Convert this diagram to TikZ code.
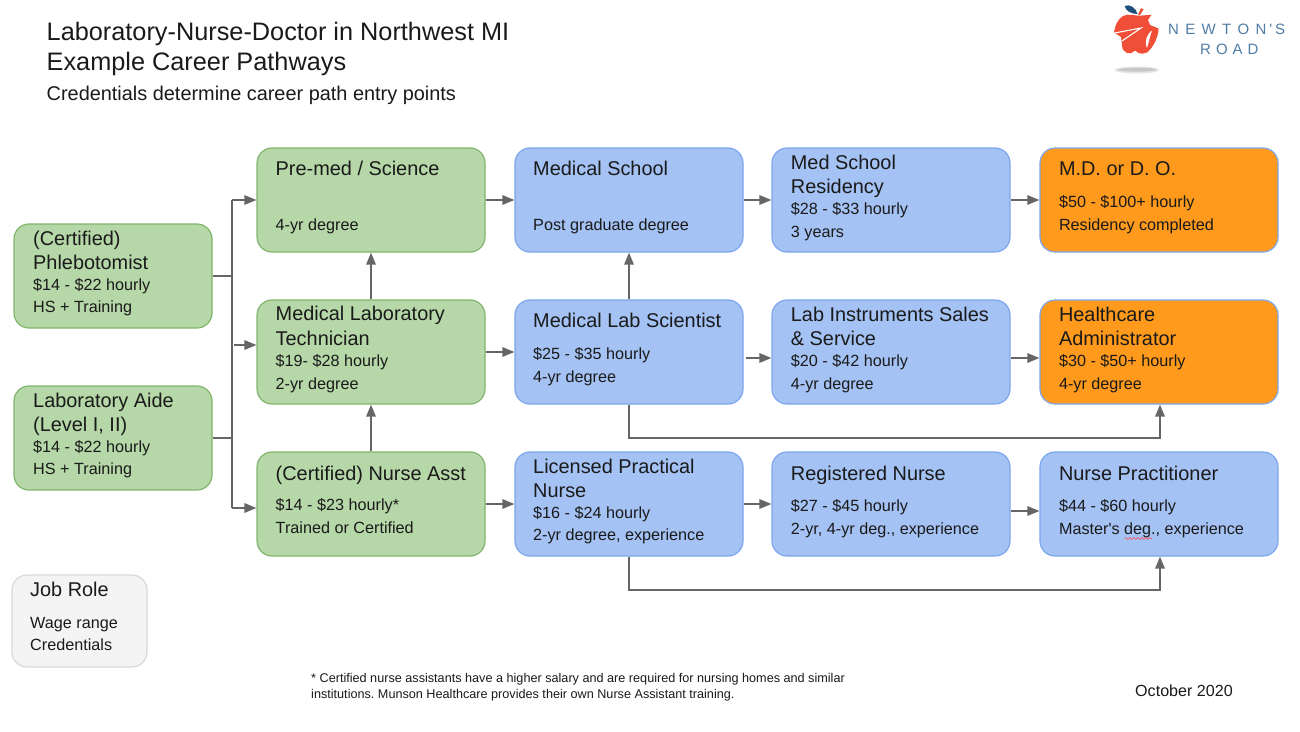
\documentclass[tikz,border=0pt]{standalone}
\usepackage{fontspec}
\setmainfont[Ligatures=TeXOff]{Liberation Sans}
\frenchspacing
\usetikzlibrary{arrows.meta,decorations.pathmorphing}
\definecolor{grn}{HTML}{B6D7A8}
\definecolor{grnb}{HTML}{7FB56C}
\definecolor{blu}{HTML}{A4C2F4}
\definecolor{blub}{HTML}{7BA6EC}
\definecolor{org}{HTML}{FF9A1C}
\definecolor{arr}{HTML}{666666}
\definecolor{ink}{HTML}{1A1A1A}
\definecolor{apple}{HTML}{F04E37}
\definecolor{leaf}{HTML}{1F4E79}
\definecolor{nrd}{HTML}{4F7CA6}
\tikzset{
  x=1pt,y=-1pt,
  jobbox/.style={rectangle,rounded corners=15pt,line width=1.2pt,minimum width=228pt,minimum height=104pt,inner sep=0pt},
  green box/.style={jobbox,fill=grn,draw=grnb},
  blue box/.style={jobbox,fill=blu,draw=blub},
  orange box/.style={jobbox,fill=org,draw=blub},
  hd/.style={anchor=base west,inner sep=0pt,text=ink,font=\fontsize{19.9pt}{24pt}\selectfont},
  bd/.style={anchor=base west,inner sep=0pt,text=ink,yshift=0.2pt,font=\fontsize{16.2pt}{20pt}\selectfont},
  conn/.style={draw=arr,line width=1.5pt,-{Triangle[length=12pt,width=9.5pt]}},
  plain/.style={draw=arr,line width=1.5pt},
}
\begin{document}
\begin{tikzpicture}
\useasboundingbox (0,0) rectangle (1300,731);
% titles
\node[anchor=base west,inner sep=0pt,text=ink,font=\fontsize{25.3pt}{30pt}\selectfont] (title1) at (46.5,40) {Laboratory-Nurse-Doctor in Northwest MI};
\node[anchor=base west,inner sep=0pt,text=ink,font=\fontsize{25.3pt}{30pt}\selectfont] (title2) at (46.5,70.5) {Example Career Pathways};
\node[anchor=base west,inner sep=0pt,text=ink,font=\fontsize{19.9pt}{24pt}\selectfont] (title3) at (46.5,100) {Credentials determine career path entry points};
% boxes
\node[green box,minimum width=198pt] (phleb) at (113,276) {};
\node[green box,minimum width=198pt] (aide) at (113,438) {};
\node[green box] (premed) at (371,200) {};
\node[green box] (medtech) at (371,352) {};
\node[green box] (cna) at (371,504) {};
\node[blue box] (medschool) at (629,200) {};
\node[blue box] (mls) at (629,352) {};
\node[blue box] (lpn) at (629,504) {};
\node[blue box,minimum width=238pt] (resid) at (891,200) {};
\node[blue box,minimum width=238pt] (sales) at (891,352) {};
\node[blue box,minimum width=238pt] (rn) at (891,504) {};
\node[orange box,minimum width=238pt] (md) at (1159,200) {};
\node[orange box,minimum width=238pt] (admin) at (1159,352) {};
\node[blue box,minimum width=238pt] (np) at (1159,504) {};
\node[jobbox,fill=black!4.5,draw=black!15,minimum width=135pt,minimum height=92pt] (legend) at (79.5,621) {};
% connectors
\coordinate (trunkT) at (232,200);
\coordinate (trunkB) at (232,508);
\coordinate (trunkM) at (234,345);
\coordinate (pj) at (232,276);
\coordinate (aj) at (232,438);
\draw[plain] (phleb.east |- pj) -- (pj);
\draw[plain] (aide.east) -- (aj);
\draw[plain] (trunkT) -- (trunkB);
\draw[conn] (trunkT) -- (premed.west);
\draw[conn] (trunkM) -- (medtech.west |- trunkM);
\draw[conn] (trunkB) -- (cna.west |- trunkB);
\draw[conn] (premed.east) -- (medschool.west);
\draw[conn] (medschool.east) -- (resid.west);
\draw[conn] (resid.east) -- (md.west);
\draw[conn] (medtech.north) -- (premed.south);
\draw[conn] (cna.north) -- (medtech.south);
\draw[conn] (mls.north) -- (medschool.south);
\draw[conn] (medtech.east) -- (mls.west);
\draw[conn] ([xshift=2pt,yshift=-6pt]mls.east) -- ([yshift=-6pt]sales.west);
\draw[conn] ([yshift=-6pt]sales.east) -- ([yshift=-6pt]admin.west);
\draw[conn] (cna.east) -- (lpn.west);
\draw[conn] (lpn.east) -- (rn.west);
\draw[conn] ([yshift=-7pt]rn.east) -- ([yshift=-7pt]np.west);
\coordinate (c1) at (629,438);
\coordinate (c2) at (1160,438);
\coordinate (c3) at (629,590);
\coordinate (c4) at (1160,590);
\draw[conn] (mls.south) -- (c1) -- (c2) -- (c2 |- admin.south);
\draw[conn] (lpn.south) -- (c3) -- (c4) -- (c4 |- np.south);
% texts
\node[hd] (t1) at (33,245) {(Certified)};
\node[hd] (t2) at (33,269) {Phlebotomist};
\node[bd] (t3) at (33,291) {\$14 - \$22 hourly};
\node[bd] (t4) at (33,313) {HS + Training};
\node[hd] (t5) at (33,407) {Laboratory Aide};
\node[hd] (t6) at (33,431) {(Level I, II)};
\node[bd] (t7) at (33,453) {\$14 - \$22 hourly};
\node[bd] (t8) at (33,475) {HS + Training};
\node[hd] (t9) at (275.5,175.5) {Pre-med / Science};
\node[bd] (t10) at (275.5,231) {4-yr degree};
\node[hd] (t11) at (275.5,320.7) {Medical Laboratory};
\node[hd] (t12) at (275.5,345) {Technician};
\node[bd] (t13) at (275.5,367) {\$19- \$28 hourly};
\node[bd] (t14) at (275.5,390) {2-yr degree};
\node[hd] (t15) at (275.5,480) {(Certified) Nurse Asst};
\node[bd] (t16) at (275.5,511) {\$14 - \$23 hourly*};
\node[bd] (t17) at (275.5,534) {Trained or Certified};
\node[hd] (t18) at (533,175.5) {Medical School};
\node[bd] (t19) at (533,231) {Post graduate degree};
\node[hd] (t20) at (533,327) {Medical Lab Scientist};
\node[bd] (t21) at (533,360) {\$25 - \$35 hourly};
\node[bd] (t22) at (533,383) {4-yr degree};
\node[hd] (t23) at (533,473) {Licensed Practical};
\node[hd] (t24) at (533,497) {Nurse};
\node[bd] (t25) at (533,519) {\$16 - \$24 hourly};
\node[bd] (t26) at (533,541) {2-yr degree, experience};
\node[hd] (t27) at (790.7,169) {Med School};
\node[hd] (t28) at (790.7,193) {Residency};
\node[bd] (t29) at (790.7,215) {\$28 - \$33 hourly};
\node[bd] (t30) at (790.7,238) {3 years};
\node[hd] (t31) at (790.7,321) {Lab Instruments Sales};
\node[hd] (t32) at (790.7,345) {\& Service};
\node[bd] (t33) at (790.7,367) {\$20 - \$42 hourly};
\node[bd] (t34) at (790.7,390) {4-yr degree};
\node[hd] (t35) at (790.7,480) {Registered Nurse};
\node[bd] (t36) at (790.7,512) {\$27 - \$45 hourly};
\node[bd] (t37) at (790.7,535) {2-yr, 4-yr deg., experience};
\node[hd] (t38) at (1058.8,175.5) {M.D. or D. O.};
\node[bd] (t39) at (1058.8,208) {\$50 - \$100+ hourly};
\node[bd] (t40) at (1058.8,231) {Residency completed};
\node[hd] (t41) at (1058.8,321) {Healthcare};
\node[hd] (t42) at (1058.8,345) {Administrator};
\node[bd] (t43) at (1058.8,367) {\$30 - \$50+ hourly};
\node[bd] (t44) at (1058.8,390) {4-yr degree};
\node[hd] (t45) at (1058.8,480) {Nurse Practitioner};
\node[bd] (t46) at (1058.8,512) {\$44 - \$60 hourly};
\node[bd] (t47) at (1058.8,535) {Master's deg., experience};
\coordinate (w1) at (1124.5,538.5);
\coordinate (w2) at (1152,538.5);
\draw[red!70,line width=0.6pt,decorate,decoration={snake,amplitude=0.9pt,segment length=4pt}] (w1) -- (w2);
\node[hd] (t48) at (30,596) {Job Role};
\node[bd] (t49) at (30,629) {Wage range};
\node[bd] (t50) at (30,651) {Credentials};
\node[anchor=base west,inner sep=0pt,text=ink,font=\fontsize{12.65pt}{15pt}\selectfont] (f1) at (311,682) {* Certified nurse assistants have a higher salary and are required for nursing homes and similar};
\node[anchor=base west,inner sep=0pt,text=ink,font=\fontsize{12.65pt}{15pt}\selectfont] (f2) at (311,698) {institutions. Munson Healthcare provides their own Nurse Assistant training.};
\node[anchor=base west,inner sep=0pt,text=ink,font=\fontsize{16.1pt}{18pt}\selectfont] (date) at (1135,696) {October 2020};
% logo
\fill[apple] (1114,32.5) .. controls (1115,25) and (1118,19) .. (1123,16) .. controls (1129,13) and (1135,16) .. (1140,15.7) -- (1151.5,14.7) -- (1148,20) -- (1150,25) -- (1158.5,28.5) .. controls (1158.5,36) and (1154,47) .. (1147,52.5) .. controls (1144,54) and (1141,54) .. (1138.5,53) -- (1135,50.5) .. controls (1133,53) and (1130,54) .. (1127,53) .. controls (1124,52) and (1122,49) .. (1122,45) -- (1121,37) -- cycle;
\draw[white,line width=1.1pt] (1112,33.5) -- (1141,28) -- (1122,41);
\fill[white] (1152,30.5) .. controls (1147,34) and (1144,41) .. (1147,48) .. controls (1149,42) and (1150,36) .. (1152,30.5) -- cycle;
\fill[leaf] (1124.5,6) .. controls (1130,3.5) and (1136,8) .. (1137.5,14) .. controls (1131,14) and (1126,11) .. (1124.5,6) -- cycle;
\fill[apple] (1138,15) -- (1141,8) -- (1143.5,9.5) -- (1140,15) -- cycle;
\fill[black!10] (1137,70) ellipse [x radius=22.5,y radius=3.5];
\fill[black!22] (1137,69.7) ellipse [x radius=19,y radius=2];
\node[anchor=base west,inner sep=0pt,text=nrd,font=\fontsize{15pt}{18pt}\selectfont] (n1) at (1168,34) {N\hspace{6.3pt}E\hspace{6.3pt}W\hspace{6.3pt}T\hspace{6.3pt}O\hspace{6.3pt}N\hspace{3pt}'\hspace{3pt}S};
\node[anchor=base west,inner sep=0pt,text=nrd,font=\fontsize{15pt}{18pt}\selectfont] (n2) at (1200,54) {R\hspace{5pt}O\hspace{5pt}A\hspace{5pt}D};
\end{tikzpicture}
\end{document}
